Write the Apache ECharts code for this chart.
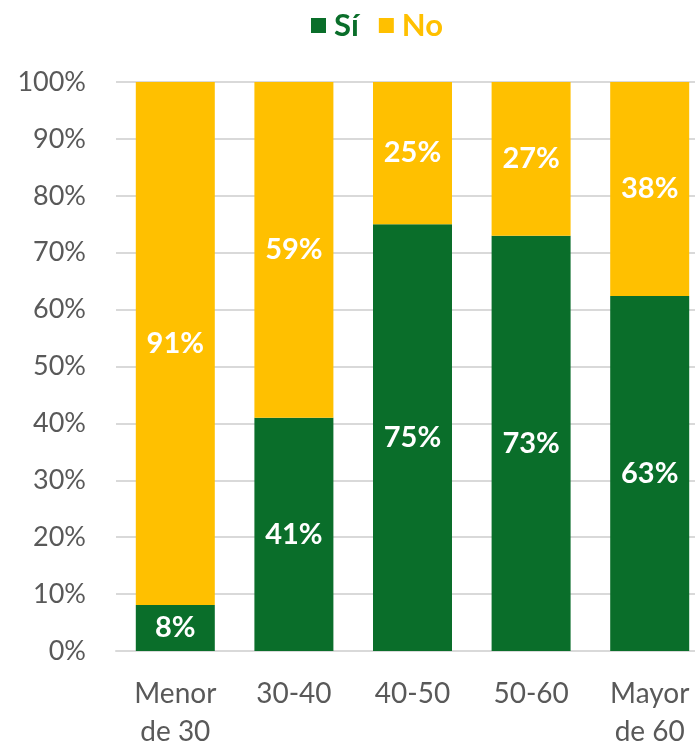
<!DOCTYPE html>
<html><head><meta charset="utf-8">
<script src="https://cdn.jsdelivr.net/npm/echarts@6/dist/echarts.min.js"></script>
<style>html,body{margin:0;padding:0;background:#fff}#c{width:695px;height:743px}</style>
</head><body><div id="c"></div>
<script>
const categories = ['Menor\nde 30', '30-40', '40-50', '50-60', 'Mayor\nde 60'];
const si = [8, 41, 75, 73, 63];
const no = [91, 59, 25, 27, 38];
const yTicks = [0, 10, 20, 30, 40, 50, 60, 70, 80, 90, 100];

const green = '#0A6E2A', yellow = '#FFC000';
const font = 'Lato';
const totals = si.map((v, i) => v + no[i]);
const pct = arr => arr.map((v, i) => ({ value: v / totals[i] * 100, raw: v }));

const chart = echarts.init(document.getElementById('c'));
chart.setOption({
  animation: false,
  textStyle: { fontFamily: font },
  legend: {
    top: 5, left: 306, itemWidth: 15, itemHeight: 15, itemGap: 20,
    icon: 'rect',
    textStyle: { fontSize: 31, fontWeight: 'bold', fontFamily: font, padding: [0, 0, 0, 3] },
    data: [
      { name: 'Sí', textStyle: { color: green } },
      { name: 'No', textStyle: { color: yellow } }
    ]
  },
  grid: { left: 116, right: -14, top: 82, bottom: 92, containLabel: false, outerBoundsMode: 'none' },
  xAxis: {
    type: 'category', data: categories,
    axisLine: { lineStyle: { color: '#D9D9D9', width: 2 } },
    axisTick: { show: false },
    axisLabel: { color: '#595959', fontSize: 28, fontFamily: font, margin: 24, lineHeight: 38 }
  },
  yAxis: {
    type: 'value', min: 0, max: 100, interval: 10,
    axisLine: { show: false }, axisTick: { show: false },
    splitLine: { lineStyle: { color: '#D9D9D9', width: 2 } },
    axisLabel: {
      color: '#595959', fontSize: 27, fontFamily: font, margin: 30,
      formatter: v => yTicks.includes(v) ? v + '%' : ''
    }
  },
  series: [
    { name: 'Sí', type: 'bar', stack: 't', data: pct(si), barWidth: 79,
      itemStyle: { color: green },
      label: { show: true, position: 'inside', color: '#fff', fontSize: 29, fontWeight: 'bold', fontFamily: font,
        formatter: p => p.data.raw + '%' } },
    { name: 'No', type: 'bar', stack: 't', data: pct(no), barWidth: 79,
      itemStyle: { color: yellow },
      label: { show: true, position: 'inside', color: '#fff', fontSize: 29, fontWeight: 'bold', fontFamily: font,
        formatter: p => p.data.raw + '%' } }
  ]
});
</script></body></html>
